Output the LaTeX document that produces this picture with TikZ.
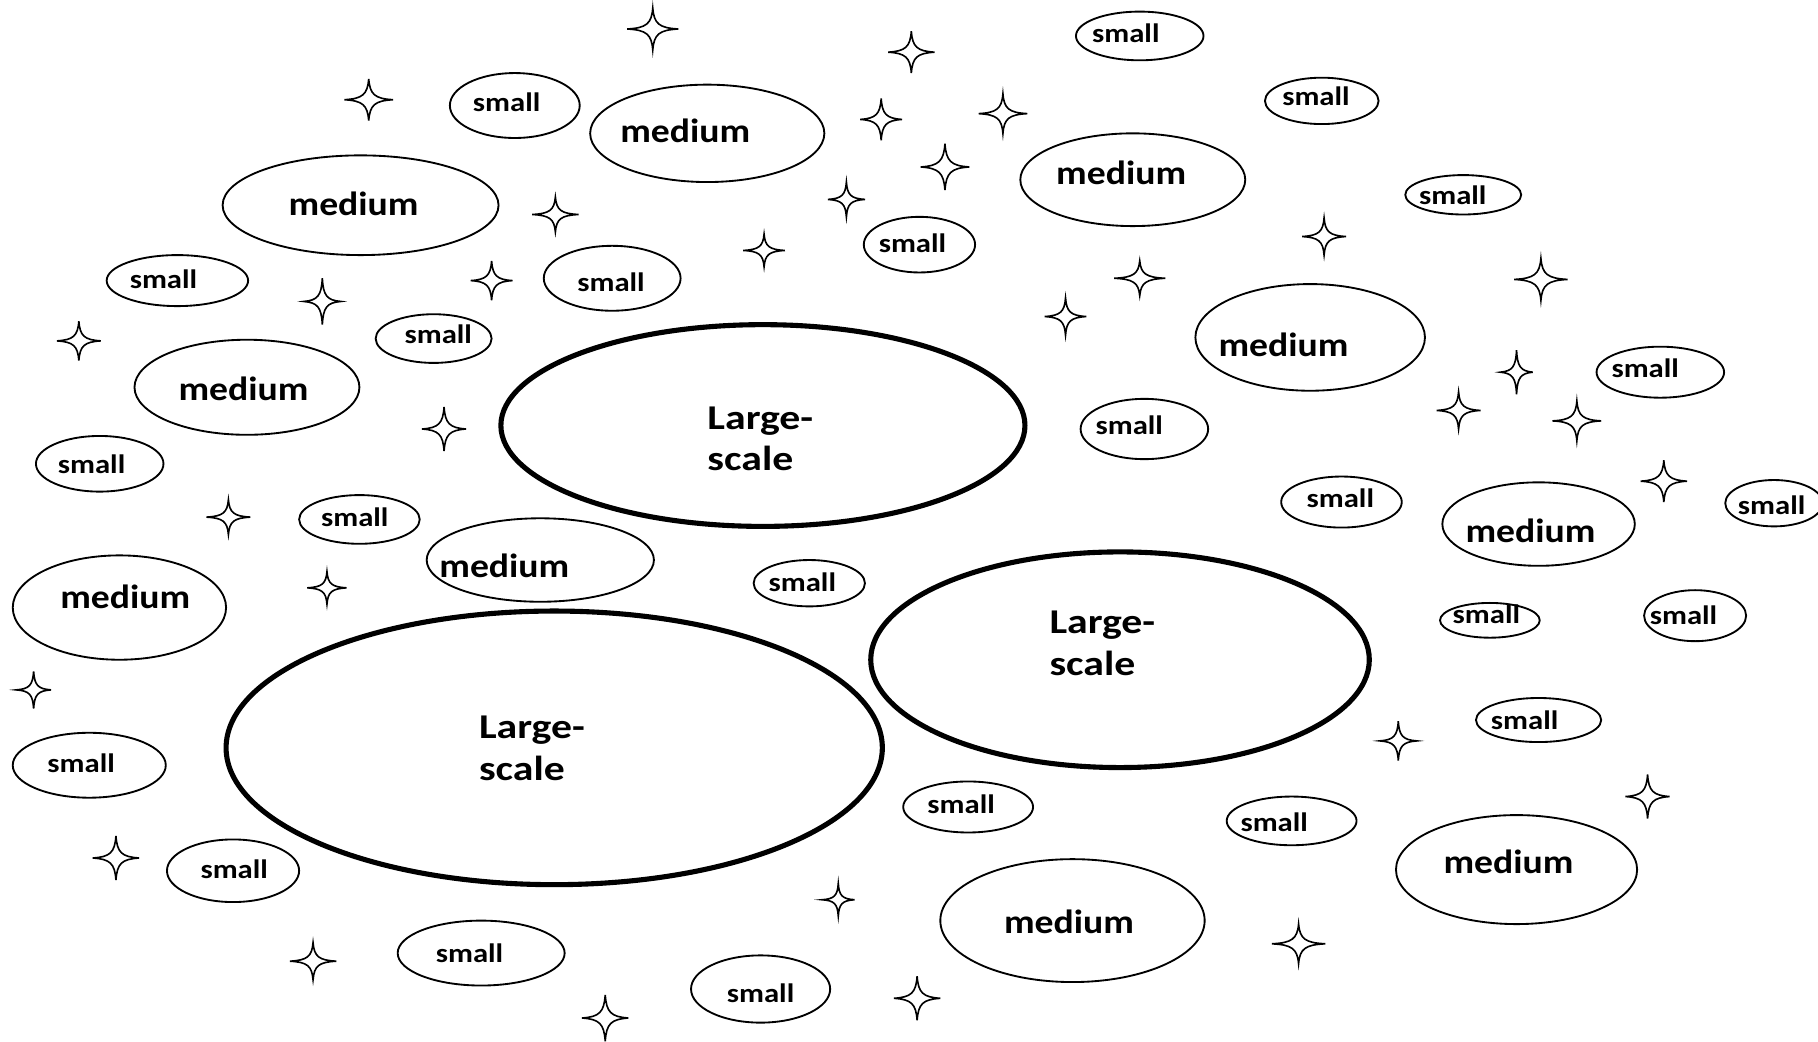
\documentclass[tikz,border=0pt]{standalone}
\usepackage{fontspec}
\setmainfont{Carlito}
\usetikzlibrary{shapes.geometric}

% words set slightly wide, as in a bitmap paint program
\newcommand\wordsmall{\scalebox{1.15}[1]{small}}
\newcommand\wordmedium{\scalebox{1.12}[1]{medium}}
\newcommand\wordlarge{\scalebox{1.2}[1]{\begin{tabular}{@{}l@{}}Large-\\scale\end{tabular}}}

\tikzset{
  ring/.style n args={2}{draw, ellipse, inner sep=0pt, outer sep=0pt,
    line width=1.6pt, minimum width=2*#1pt, minimum height=2*#2pt},
  bigring/.style n args={2}{ring={#1}{#2}, line width=4.4pt},
  smalltxt/.style={inner sep=0pt, font=\bfseries\fontsize{23}{27}\selectfont},
  mediumtxt/.style={inner sep=0pt, font=\bfseries\fontsize{29}{34}\selectfont},
  largetxt/.style={inner sep=0pt, anchor=west, font=\bfseries\fontsize{30}{36}\selectfont},
  starline/.style={draw, line width=1.4pt, line join=miter},
  sparkle/.pic={
    \path[starline] (1,0) .. controls (0.25,0.05) and (0.05,0.25) .. (0,1)
      .. controls (-0.05,0.25) and (-0.25,0.05) .. (-1,0)
      .. controls (-0.25,-0.05) and (-0.05,-0.25) .. (0,-1)
      .. controls (0.05,-0.25) and (0.25,-0.05) .. cycle;
  }
}

\begin{document}
\begin{tikzpicture}[x=1pt, y=-1pt]
\useasboundingbox (0,0) rectangle (1568,898);
\fill[white] (0,0) rectangle (1568,898);

% large-scale
\node[bigring={226}{87}]  (L1) at (658,367) {};
\node[largetxt] (L1t) at (610,381) {\wordlarge};
\node[bigring={283}{118}] (L2) at (478,645) {};
\node[largetxt] (L2t) at (413,648) {\wordlarge};
\node[bigring={215}{93}]  (L3) at (966,569) {};
\node[largetxt] (L3t) at (905,557) {\wordlarge};

% medium
\node[ring={101}{42}] (m1) at (610,115) {};  \node[mediumtxt] (m1t) at (591,113) {\wordmedium};
\node[ring={119}{43}] (m2) at (311,177) {};  \node[mediumtxt] (m2t) at (305,176) {\wordmedium};
\node[ring={97}{40}]  (m3) at (977,155) {};  \node[mediumtxt] (m3t) at (967,149) {\wordmedium};
\node[ring={99}{46}]  (m4) at (1130,291) {}; \node[mediumtxt] (m4t) at (1107,297) {\wordmedium};
\node[ring={97}{41}]  (m5) at (213,334) {};  \node[mediumtxt] (m5t) at (210,335) {\wordmedium};
\node[ring={98}{36}]  (m6) at (466,483) {};  \node[mediumtxt] (m6t) at (435,488) {\wordmedium};
\node[ring={92}{45}]  (m7) at (103,524) {};  \node[mediumtxt] (m7t) at (108,515) {\wordmedium};
\node[ring={83}{36}]  (m8) at (1327,452) {}; \node[mediumtxt] (m8t) at (1320,458) {\wordmedium};
\node[ring={104}{47}] (m9) at (1308,750) {}; \node[mediumtxt] (m9t) at (1301,743) {\wordmedium};
\node[ring={114}{53}] (m10) at (925,794) {}; \node[mediumtxt] (m10t) at (922,795) {\wordmedium};

% small
\node[ring={55}{21}] (s1) at (983,31) {};   \node[smalltxt] (s1t) at (971,29) {\wordsmall};
\node[ring={49}{20}] (s2) at (1140,87) {};  \node[smalltxt] (s2t) at (1135,83) {\wordsmall};
\node[ring={56}{28}] (s3) at (444,91) {};   \node[smalltxt] (s3t) at (437,88) {\wordsmall};
\node[ring={50}{17}] (s4) at (1262,168) {}; \node[smalltxt] (s4t) at (1253,168) {\wordsmall};
\node[ring={48}{24}] (s5) at (793,211) {};  \node[smalltxt] (s5t) at (787,210) {\wordsmall};
\node[ring={61}{22}] (s6) at (153,242) {};  \node[smalltxt] (s6t) at (141,241) {\wordsmall};
\node[ring={59}{28}] (s7) at (528,240) {};  \node[smalltxt] (s7t) at (527,243) {\wordsmall};
\node[ring={50}{21}] (s8) at (374,292) {};  \node[smalltxt] (s8t) at (378,288) {\wordsmall};
\node[ring={55}{22}] (s9) at (1432,321) {}; \node[smalltxt] (s9t) at (1419,318) {\wordsmall};
\node[ring={55}{26}] (s10) at (987,370) {}; \node[smalltxt] (s10t) at (974,367) {\wordsmall};
\node[ring={55}{24}] (s11) at (86,400) {};  \node[smalltxt] (s11t) at (79,400) {\wordsmall};
\node[ring={52}{21}] (s12) at (310,448) {}; \node[smalltxt] (s12t) at (306,446) {\wordsmall};
\node[ring={52}{22}] (s13) at (1157,433) {}; \node[smalltxt] (s13t) at (1156,430) {\wordsmall};
\node[ring={42}{20}] (s14) at (1530,434) {}; \node[smalltxt] (s14t) at (1528,436) {\wordsmall};
\node[ring={48}{20}] (s15) at (698,503) {}; \node[smalltxt] (s15t) at (692,502) {\wordsmall};
\node[ring={43}{15}] (s16) at (1285,535) {}; \node[smalltxt] (s16t) at (1282,530) {\wordsmall};
\node[ring={44}{22}] (s17) at (1462,531) {}; \node[smalltxt] (s17t) at (1452,531) {\wordsmall};
\node[ring={54}{19}] (s18) at (1327,621) {}; \node[smalltxt] (s18t) at (1315,621) {\wordsmall};
\node[ring={66}{28}] (s19) at (77,660) {};  \node[smalltxt] (s19t) at (70,658) {\wordsmall};
\node[ring={56}{22}] (s20) at (835,696) {}; \node[smalltxt] (s20t) at (829,694) {\wordsmall};
\node[ring={56}{21}] (s21) at (1114,708) {}; \node[smalltxt] (s21t) at (1099,709) {\wordsmall};
\node[ring={57}{27}] (s22) at (201,751) {}; \node[smalltxt] (s22t) at (202,750) {\wordsmall};
\node[ring={72}{28}] (s23) at (415,822) {}; \node[smalltxt] (s23t) at (405,822) {\wordsmall};
\node[ring={60}{29}] (s24) at (656,853) {}; \node[smalltxt] (s24t) at (656,857) {\wordsmall};

% four-pointed stars
\foreach \sx/\sy/\hw/\hh in {
  563/25/22/18, 786/45/20/18, 318/86/21/18, 760/103/18/18, 865/98/21/17,
  815/144/21/20, 479/185/20/15, 730/172/16/15, 659/216/18/14, 424/242/18/17,
  278/260/16/20, 1142/204/19/16, 983/240/22/15, 1329/241/23/18, 919/273/18/16,
  68/294/19/17, 383/370/19/19, 1308/321/14/19, 1258/354/19/16, 1360/363/21/17,
  1435/415/20/18, 197/446/19/15, 282/507/17/14, 29/595/15/16, 100/740/20/19,
  270/829/20/16, 522/878/20/20, 723/776/14/14, 791/861/20/19, 1206/639/16/17,
  1421/687/19/19, 1120/814/23/17}
  \pic[xscale=\hw, yscale=\hh] at (\sx,\sy) {sparkle};
\end{tikzpicture}
\end{document}
